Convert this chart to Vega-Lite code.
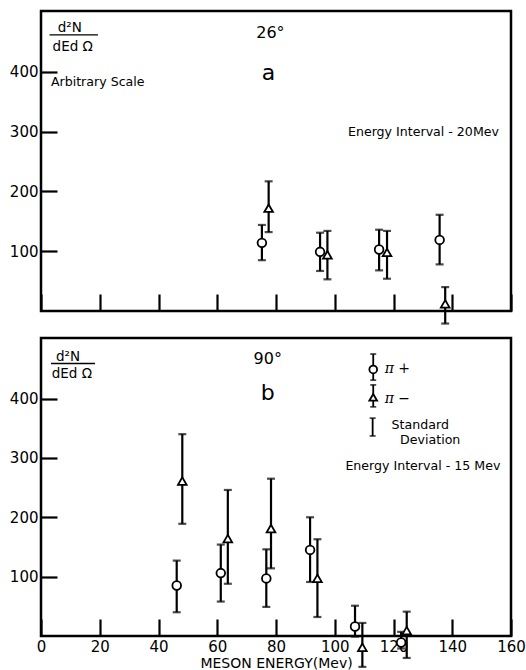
{
  "$schema": "https://vega.github.io/schema/vega-lite/v6.json",
  "autosize": {"type": "pad"},
  "padding": {"left": 8, "top": 9, "right": 14, "bottom": 2},
  "background": "white",
  "spacing": 10,
  "config": {
    "view": {"stroke": "black", "strokeWidth": 2.5},
    "font": "DejaVu Sans",
    "axis": {"grid": false, "domain": false, "tickColor": "black", "tickWidth": 2.2, "labelColor": "black", "labelFont": "DejaVu Sans", "labelFontSize": 15, "titleColor": "black", "titleFont": "DejaVu Sans", "labelFlush": false, "labelOverlap": false},
    "text": {"font": "DejaVu Sans", "color": "black"}
  },
  "datasets": {
    "pointsA": [
      {"meson": "π+", "energy": 75.2, "value": 114, "low": 85, "high": 144},
      {"meson": "π+", "energy": 95.0, "value": 99, "low": 67, "high": 131},
      {"meson": "π+", "energy": 115.1, "value": 103, "low": 68, "high": 136},
      {"meson": "π+", "energy": 135.7, "value": 119, "low": 78, "high": 161},
      {"meson": "π−", "energy": 77.5, "value": 172, "low": 132, "high": 217},
      {"meson": "π−", "energy": 97.5, "value": 94, "low": 53, "high": 134},
      {"meson": "π−", "energy": 117.8, "value": 98, "low": 54, "high": 134},
      {"meson": "π−", "energy": 137.6, "value": 12, "low": -21, "high": 40}
    ],
    "pointsB": [
      {"meson": "π+", "energy": 46.2, "value": 85, "low": 40, "high": 127},
      {"meson": "π+", "energy": 61.2, "value": 106, "low": 58, "high": 154},
      {"meson": "π+", "energy": 76.7, "value": 97, "low": 49, "high": 146},
      {"meson": "π+", "energy": 91.6, "value": 145, "low": 91, "high": 200},
      {"meson": "π+", "energy": 106.9, "value": 16, "low": -1, "high": 51},
      {"meson": "π+", "energy": 122.6, "value": -11, "low": -21, "high": 7},
      {"meson": "π−", "energy": 48.1, "value": 261, "low": 189, "high": 340},
      {"meson": "π−", "energy": 63.6, "value": 164, "low": 88, "high": 246},
      {"meson": "π−", "energy": 78.3, "value": 181, "low": 114, "high": 265},
      {"meson": "π−", "energy": 94.1, "value": 97, "low": 32, "high": 163},
      {"meson": "π−", "energy": 109.4, "value": -19, "low": -52, "high": 22},
      {"meson": "π−", "energy": 124.5, "value": 9, "low": -37, "high": 41}
    ],
    "keyB": [
      {"meson": "π+", "energy": 113.1, "value": 449, "low": 431, "high": 475},
      {"meson": "π−", "energy": 113.1, "value": 402, "low": 386, "high": 423},
      {"meson": "sd", "energy": 112.9, "value": null, "low": 337, "high": 367}
    ],
    "textA": [
      {"role": "frac", "label": "d²N", "energy": 9.8, "value": 474},
      {"role": "frac", "label": "dEd Ω", "energy": 10.8, "value": 442},
      {"role": "note", "label": "Arbitrary Scale", "energy": 19.3, "value": 383},
      {"role": "note", "label": "Energy Interval - 20Mev", "energy": 130.2, "value": 299},
      {"role": "head", "label": "26°", "energy": 78.1, "value": 465},
      {"role": "letter", "label": "a", "energy": 77.4, "value": 398}
    ],
    "textB": [
      {"role": "frac", "label": "d²N", "energy": 9.2, "value": 470},
      {"role": "frac", "label": "dEd Ω", "energy": 10.5, "value": 442},
      {"role": "note", "label": "Energy Interval - 15 Mev", "energy": 130, "value": 286},
      {"role": "note", "label": "Standard", "energy": 129.1, "value": 355},
      {"role": "note", "label": "Deviation", "energy": 132.5, "value": 330},
      {"role": "key", "label": "π +", "energy": 121.3, "value": 449},
      {"role": "key", "label": "π −", "energy": 121.3, "value": 400},
      {"role": "head", "label": "90°", "energy": 77.2, "value": 466},
      {"role": "letter", "label": "b", "energy": 77.2, "value": 409}
    ],
    "fracA": [{"energy": 2.9, "energy2": 19.4, "value": 462}],
    "fracB": [{"energy": 3.4, "energy2": 18.4, "value": 459}]
  },
  "vconcat": [
    {
      "width": 470,
      "height": 300,
      "encoding": {
        "x": {"field": "energy", "type": "quantitative", "scale": {"domain": [0, 160], "nice": false},
              "axis": {"values": [0, 20, 40, 60, 80, 100, 120, 140, 160], "labels": false, "tickSize": -17, "title": null}}
      },
      "layer": [
        {"data": {"name": "pointsA"}, "mark": {"type": "rule", "color": "black", "strokeWidth": 2.2},
         "encoding": {"y": {"field": "low", "type": "quantitative", "scale": {"domain": [0, 502], "nice": false}, "title": null,
                            "axis": {"values": [100, 200, 300, 400], "tickSize": -16, "labelPadding": 19}}, "y2": {"field": "high"}}},
        {"data": {"name": "pointsA"}, "mark": {"type": "tick", "orient": "horizontal", "size": 8, "thickness": 2.2, "color": "black"},
         "encoding": {"y": {"field": "low", "type": "quantitative", "title": null}}},
        {"data": {"name": "pointsA"}, "mark": {"type": "tick", "orient": "horizontal", "size": 8, "thickness": 2.2, "color": "black"},
         "encoding": {"y": {"field": "high", "type": "quantitative", "title": null}}},
        {"data": {"name": "pointsA"}, "mark": {"type": "point", "fill": "white", "fillOpacity": 1, "stroke": "black", "strokeWidth": 1.8, "opacity": 1, "size": 75},
         "encoding": {"y": {"field": "value", "type": "quantitative", "title": null},
                      "shape": {"field": "meson", "type": "nominal", "scale": {"domain": ["π+", "π−"], "range": ["circle", "triangle-up"]}, "legend": null}}},
        {"data": {"name": "fracA"}, "mark": {"type": "rule", "color": "black", "strokeWidth": 1.4},
         "encoding": {"x2": {"field": "energy2"}, "y": {"field": "value", "type": "quantitative", "title": null}}},
        {"data": {"name": "textA"}, "transform": [{"filter": "datum.role == 'note'"}],
         "mark": {"type": "text", "fontSize": 12.6, "align": "center", "baseline": "middle"},
         "encoding": {"y": {"field": "value", "type": "quantitative", "title": null}, "text": {"field": "label"}}},
        {"data": {"name": "textA"}, "transform": [{"filter": "datum.role == 'frac'"}],
         "mark": {"type": "text", "fontSize": 13.5, "align": "center", "baseline": "middle"},
         "encoding": {"y": {"field": "value", "type": "quantitative", "title": null}, "text": {"field": "label"}}},
        {"data": {"name": "textA"}, "transform": [{"filter": "datum.role == 'head'"}],
         "mark": {"type": "text", "fontSize": 16, "align": "center", "baseline": "middle"},
         "encoding": {"y": {"field": "value", "type": "quantitative", "title": null}, "text": {"field": "label"}}},
        {"data": {"name": "textA"}, "transform": [{"filter": "datum.role == 'letter'"}],
         "mark": {"type": "text", "fontSize": 22, "align": "center", "baseline": "middle"},
         "encoding": {"y": {"field": "value", "type": "quantitative", "title": null}, "text": {"field": "label"}}}
      ]
    },
    {
      "width": 470,
      "height": 298,
      "encoding": {
        "x": {"field": "energy", "type": "quantitative", "scale": {"domain": [0, 160], "nice": false},
              "axis": {"values": [0, 20, 40, 60, 80, 100, 120, 140, 160], "tickSize": -17, "labelPadding": 20, "titlePadding": 2, "titleFontSize": 14, "titleFontWeight": "normal"},
              "title": "MESON ENERGY(Mev)"}
      },
      "layer": [
        {"data": {"name": "pointsB"}, "mark": {"type": "rule", "color": "black", "strokeWidth": 2.2},
         "encoding": {"y": {"field": "low", "type": "quantitative", "scale": {"domain": [0, 502], "nice": false}, "title": null,
                            "axis": {"values": [100, 200, 300, 400], "tickSize": -16, "labelPadding": 19}}, "y2": {"field": "high"}}},
        {"data": {"name": "pointsB"}, "mark": {"type": "tick", "orient": "horizontal", "size": 8, "thickness": 2.2, "color": "black"},
         "encoding": {"y": {"field": "low", "type": "quantitative", "title": null}}},
        {"data": {"name": "pointsB"}, "mark": {"type": "tick", "orient": "horizontal", "size": 8, "thickness": 2.2, "color": "black"},
         "encoding": {"y": {"field": "high", "type": "quantitative", "title": null}}},
        {"data": {"name": "pointsB"}, "mark": {"type": "point", "fill": "white", "fillOpacity": 1, "stroke": "black", "strokeWidth": 1.8, "opacity": 1, "size": 75},
         "encoding": {"y": {"field": "value", "type": "quantitative", "title": null},
                      "shape": {"field": "meson", "type": "nominal", "scale": {"domain": ["π+", "π−"], "range": ["circle", "triangle-up"]}, "legend": null}}},
        {"data": {"name": "keyB"}, "mark": {"type": "rule", "color": "black", "strokeWidth": 1.8},
         "encoding": {"y": {"field": "low", "type": "quantitative", "title": null}, "y2": {"field": "high"}}},
        {"data": {"name": "keyB"}, "mark": {"type": "tick", "orient": "horizontal", "size": 6, "thickness": 1.8, "color": "black"},
         "encoding": {"y": {"field": "low", "type": "quantitative", "title": null}}},
        {"data": {"name": "keyB"}, "mark": {"type": "tick", "orient": "horizontal", "size": 6, "thickness": 1.8, "color": "black"},
         "encoding": {"y": {"field": "high", "type": "quantitative", "title": null}}},
        {"data": {"name": "keyB"}, "transform": [{"filter": "datum.meson != 'sd'"}],
         "mark": {"type": "point", "fill": "white", "fillOpacity": 1, "stroke": "black", "strokeWidth": 1.8, "opacity": 1, "size": 60},
         "encoding": {"y": {"field": "value", "type": "quantitative", "title": null},
                      "shape": {"field": "meson", "type": "nominal", "legend": null}}},
        {"data": {"name": "fracB"}, "mark": {"type": "rule", "color": "black", "strokeWidth": 1.4},
         "encoding": {"x2": {"field": "energy2"}, "y": {"field": "value", "type": "quantitative", "title": null}}},
        {"data": {"name": "textB"}, "transform": [{"filter": "datum.role == 'note'"}],
         "mark": {"type": "text", "fontSize": 12.6, "align": "center", "baseline": "middle"},
         "encoding": {"y": {"field": "value", "type": "quantitative", "title": null}, "text": {"field": "label"}}},
        {"data": {"name": "textB"}, "transform": [{"filter": "datum.role == 'frac'"}],
         "mark": {"type": "text", "fontSize": 13.5, "align": "center", "baseline": "middle"},
         "encoding": {"y": {"field": "value", "type": "quantitative", "title": null}, "text": {"field": "label"}}},
        {"data": {"name": "textB"}, "transform": [{"filter": "datum.role == 'key'"}],
         "mark": {"type": "text", "fontSize": 14, "fontStyle": "italic", "font": "DejaVu Serif", "align": "center", "baseline": "middle"},
         "encoding": {"y": {"field": "value", "type": "quantitative", "title": null}, "text": {"field": "label"}}},
        {"data": {"name": "textB"}, "transform": [{"filter": "datum.role == 'head'"}],
         "mark": {"type": "text", "fontSize": 16, "align": "center", "baseline": "middle"},
         "encoding": {"y": {"field": "value", "type": "quantitative", "title": null}, "text": {"field": "label"}}},
        {"data": {"name": "textB"}, "transform": [{"filter": "datum.role == 'letter'"}],
         "mark": {"type": "text", "fontSize": 22, "align": "center", "baseline": "middle"},
         "encoding": {"y": {"field": "value", "type": "quantitative", "title": null}, "text": {"field": "label"}}}
      ]
    }
  ]
}
